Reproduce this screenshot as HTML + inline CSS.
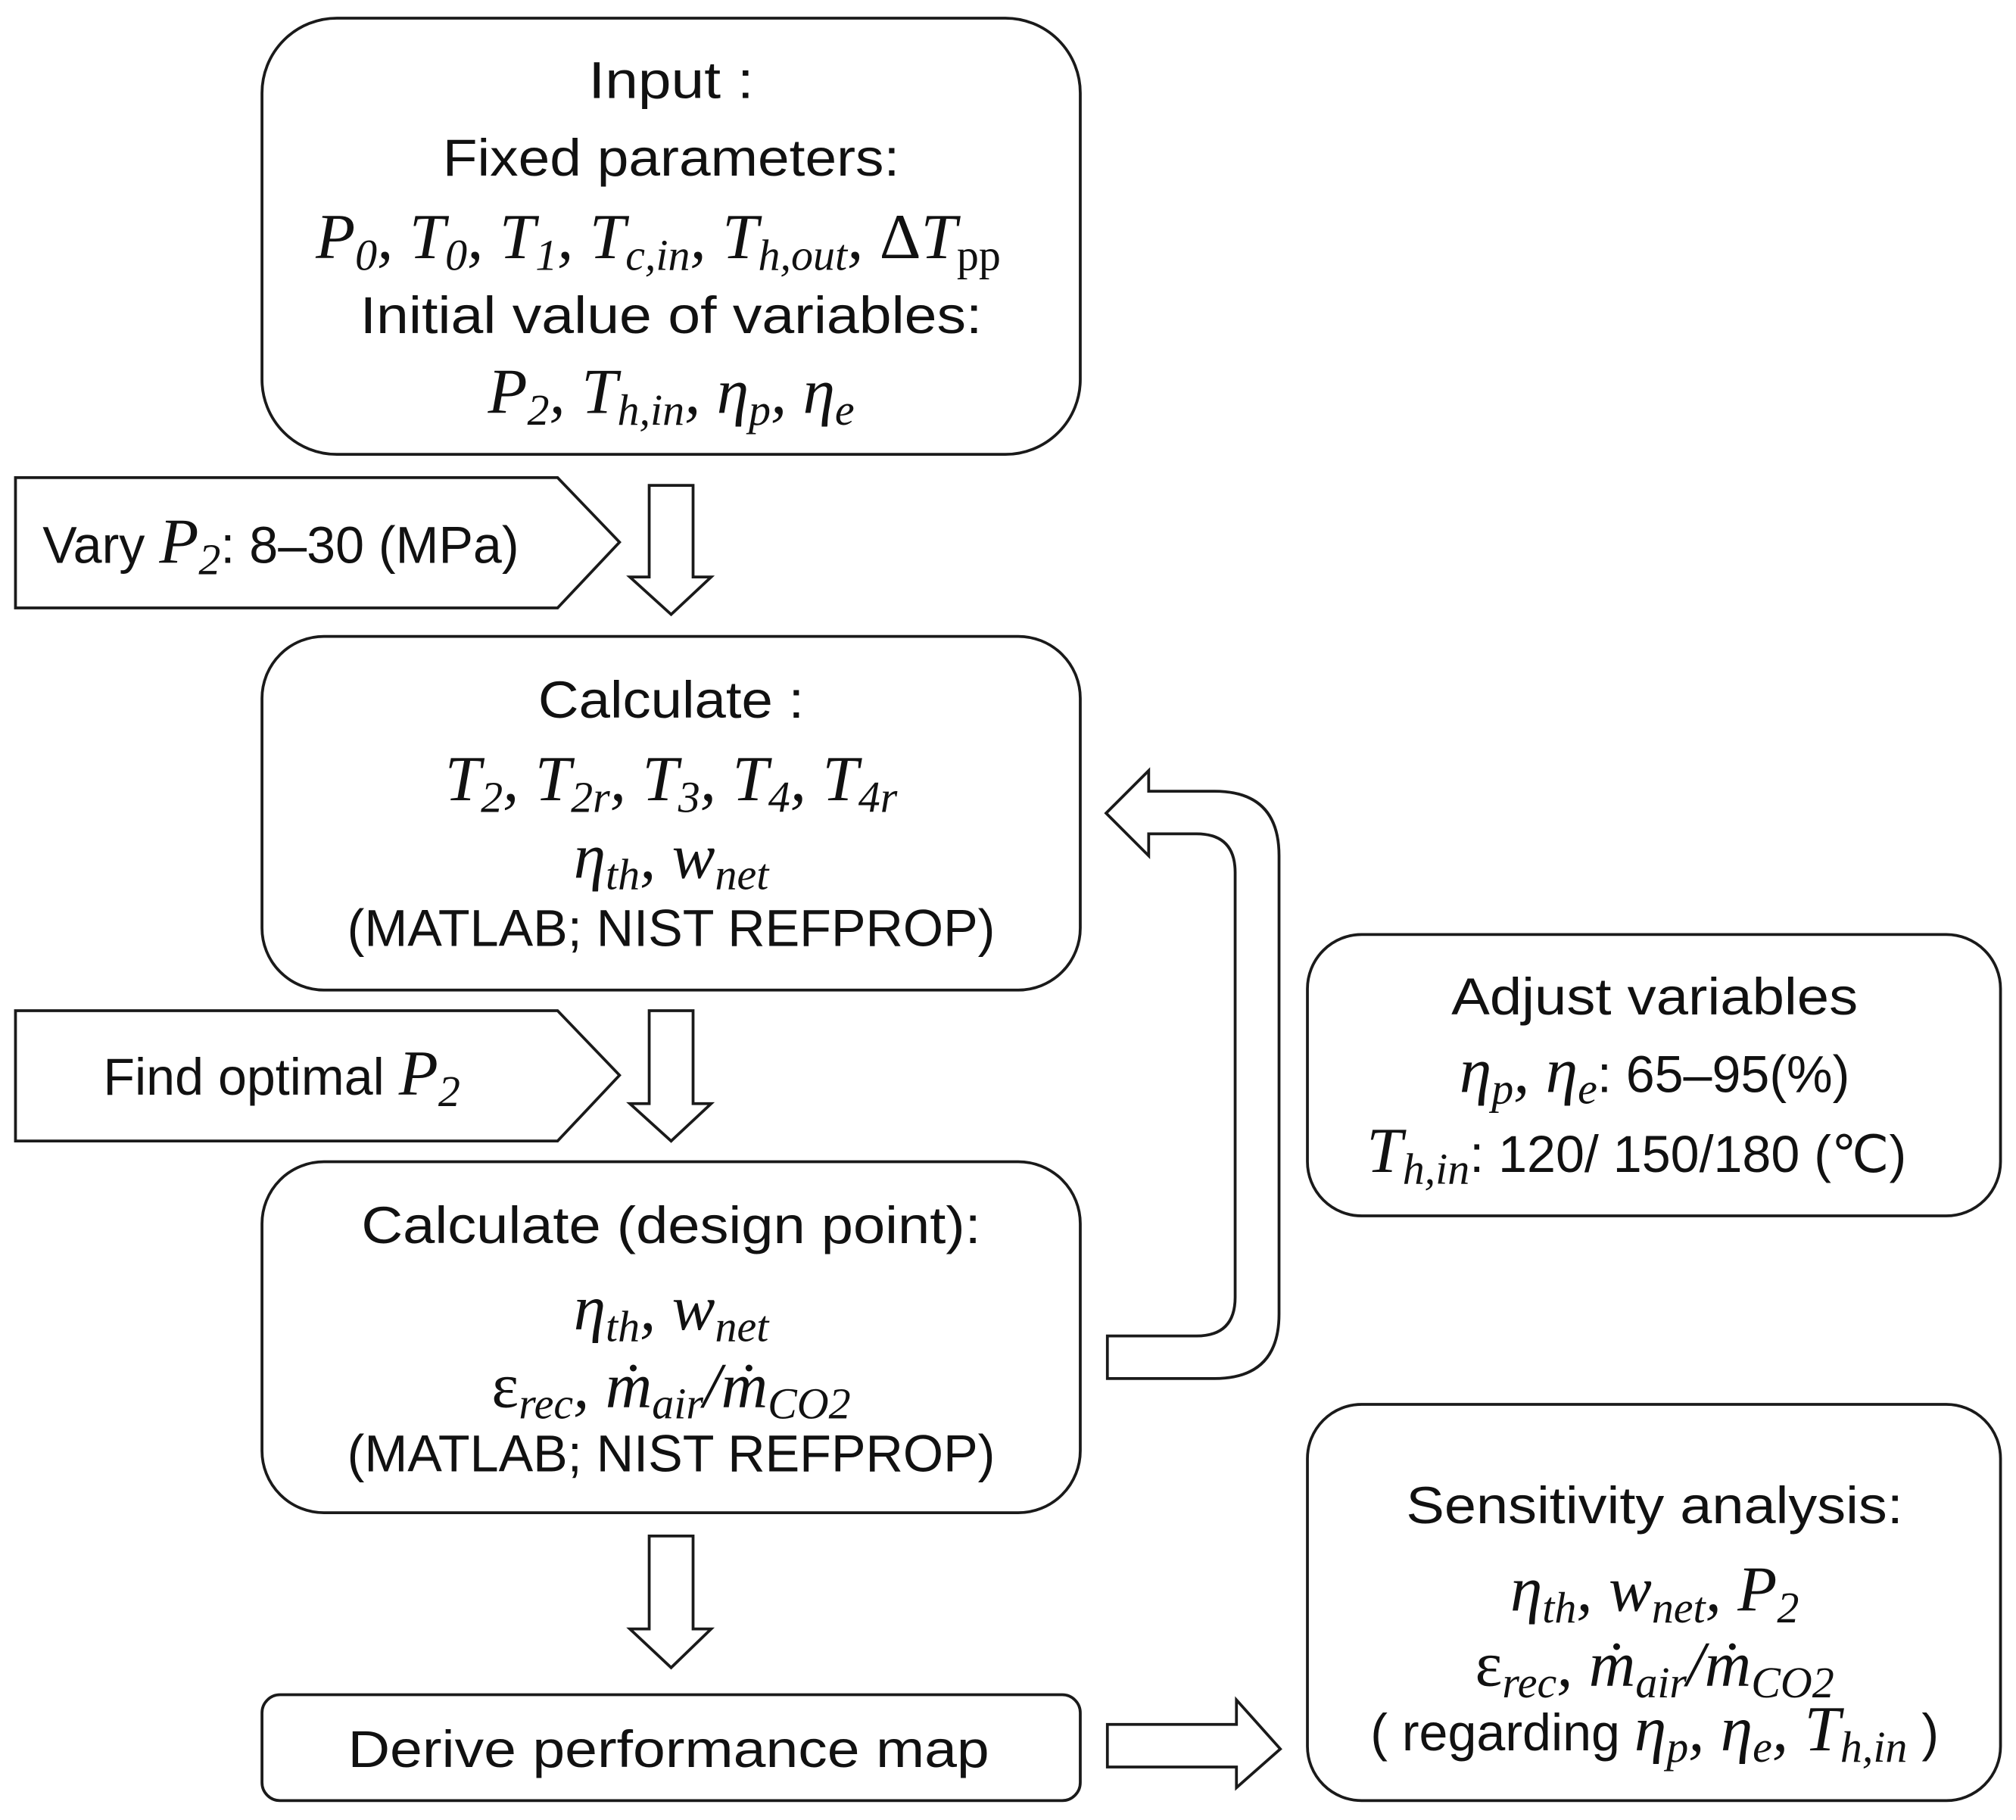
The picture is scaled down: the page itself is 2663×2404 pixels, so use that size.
<!DOCTYPE html>
<html><head><meta charset="utf-8"><style>
html,body{margin:0;padding:0;background:#fff;}
svg{display:block;}
.t{font-family:"Liberation Sans",sans-serif;font-size:40px;fill:#111;}
.m{font-family:"Liberation Serif",serif;font-style:italic;font-size:50px;fill:#111;}
.s{font-size:34px;}
.u{font-style:normal;font-family:"Liberation Sans",sans-serif;font-size:40px;}
</style></head><body>
<svg width="2663" height="2404" viewBox="0 0 1562 1410" xmlns="http://www.w3.org/2000/svg">
<g fill="#fff" stroke="#1a1a1a" stroke-width="2.2">
<rect x="203" y="14" width="634" height="338" rx="58"/>
<rect x="203" y="493" width="634" height="274" rx="48"/>
<rect x="203" y="900" width="634" height="272" rx="48"/>
<rect x="203" y="1313" width="634" height="82" rx="14"/>
<rect x="1013" y="724" width="537" height="218" rx="42"/>
<rect x="1013" y="1088" width="537" height="307" rx="42"/>
<polygon points="12,370 432,370 480,420 432,471 12,471"/>
<polygon points="12,783 432,783 480,833 432,884 12,884"/>
<polygon points="503,376 537,376 537,447 551,447 520,476 488,447 503,447"/>
<polygon points="503,783 537,783 537,855 551,855 520,884 488,855 503,855"/>
<polygon points="503,1190 537,1190 537,1262 551,1262 520,1292 488,1262 503,1262"/>
<polygon points="858,1336 958,1336 958,1317 992,1355 958,1385 958,1369 858,1369"/>
<path d="M857,630 L890,597 L890,613 L941,613 Q991,613 991,663 L991,1018 Q991,1068 941,1068 L858,1068 L858,1035 L927,1035 Q957,1035 957,1005 L957,676 Q957,646 927,646 L890,646 L890,663 Z"/>
</g>
<text class="t" x="520" y="76" text-anchor="middle" textLength="128" lengthAdjust="spacingAndGlyphs">Input :</text>
<text class="t" x="520" y="136" text-anchor="middle" textLength="354" lengthAdjust="spacingAndGlyphs">Fixed parameters:</text>
<text class="m" x="510" y="200" text-anchor="middle">P<tspan class="s" dy="9">0</tspan><tspan dy="-9">, T</tspan><tspan class="s" dy="9">0</tspan><tspan dy="-9">, T</tspan><tspan class="s" dy="9">1</tspan><tspan dy="-9">, T</tspan><tspan class="s" dy="9">c,in</tspan><tspan dy="-9">, T</tspan><tspan class="s" dy="9">h,out</tspan><tspan dy="-9">, </tspan><tspan style="font-style:normal">Δ</tspan>T<tspan class="s" dy="9" style="font-style:normal">pp</tspan></text>
<text class="t" x="520" y="258" text-anchor="middle" textLength="482" lengthAdjust="spacingAndGlyphs">Initial value of variables:</text>
<text class="m" x="520" y="320" text-anchor="middle">P<tspan class="s" dy="9">2</tspan><tspan dy="-9">, T</tspan><tspan class="s" dy="9">h,in</tspan><tspan dy="-9">, η</tspan><tspan class="s" dy="9">p</tspan><tspan dy="-9">, η</tspan><tspan class="s" dy="9">e</tspan></text>
<text class="t" x="33" y="436">Vary <tspan class="m">P</tspan><tspan class="m s" dy="9">2</tspan><tspan dy="-9">: 8–30 (MPa)</tspan></text>
<text class="t" x="80" y="848">Find optimal <tspan class="m">P</tspan><tspan class="m s" dy="9">2</tspan></text>
<text class="t" x="520" y="556" text-anchor="middle" textLength="206" lengthAdjust="spacingAndGlyphs">Calculate :</text>
<text class="m" x="520" y="620" text-anchor="middle">T<tspan class="s" dy="9">2</tspan><tspan dy="-9">, T</tspan><tspan class="s" dy="9">2r</tspan><tspan dy="-9">, T</tspan><tspan class="s" dy="9">3</tspan><tspan dy="-9">, T</tspan><tspan class="s" dy="9">4</tspan><tspan dy="-9">, T</tspan><tspan class="s" dy="9">4r</tspan></text>
<text class="m" x="520" y="680" text-anchor="middle">η<tspan class="s" dy="9">th</tspan><tspan dy="-9">, w</tspan><tspan class="s" dy="9">net</tspan></text>
<text class="t" x="520" y="733" text-anchor="middle" textLength="502" lengthAdjust="spacingAndGlyphs">(MATLAB; NIST REFPROP)</text>
<text class="t" x="520" y="963" text-anchor="middle" textLength="480" lengthAdjust="spacingAndGlyphs">Calculate (design point):</text>
<text class="m" x="520" y="1030" text-anchor="middle">η<tspan class="s" dy="9">th</tspan><tspan dy="-9">, w</tspan><tspan class="s" dy="9">net</tspan></text>
<text class="m" x="520" y="1090" text-anchor="middle"><tspan style="font-style:normal">ε</tspan><tspan class="s" dy="9">rec</tspan><tspan dy="-9">, ṁ</tspan><tspan class="s" dy="9">air</tspan><tspan dy="-9">/ṁ</tspan><tspan class="s" dy="9">CO2</tspan></text>
<text class="t" x="520" y="1140" text-anchor="middle" textLength="502" lengthAdjust="spacingAndGlyphs">(MATLAB; NIST REFPROP)</text>
<text class="t" x="518" y="1369" text-anchor="middle" textLength="497" lengthAdjust="spacingAndGlyphs">Derive performance map</text>
<text class="t" x="1282" y="786" text-anchor="middle" textLength="315" lengthAdjust="spacingAndGlyphs">Adjust variables</text>
<text class="m" x="1282" y="846" text-anchor="middle">η<tspan class="s" dy="9">p</tspan><tspan dy="-9">, η</tspan><tspan class="s" dy="9">e</tspan><tspan class="u" dy="-9">: 65–95(%)</tspan></text>
<text class="m" x="1268" y="908" text-anchor="middle">T<tspan class="s" dy="9">h,in</tspan><tspan class="u" dy="-9">: 120/ 150/180 (℃)</tspan></text>
<text class="t" x="1282" y="1180" text-anchor="middle" textLength="385" lengthAdjust="spacingAndGlyphs">Sensitivity analysis:</text>
<text class="m" x="1282" y="1248" text-anchor="middle">η<tspan class="s" dy="9">th</tspan><tspan dy="-9">, w</tspan><tspan class="s" dy="9">net</tspan><tspan dy="-9">, P</tspan><tspan class="s" dy="9">2</tspan></text>
<text class="m" x="1282" y="1306" text-anchor="middle"><tspan style="font-style:normal">ε</tspan><tspan class="s" dy="9">rec</tspan><tspan dy="-9">, ṁ</tspan><tspan class="s" dy="9">air</tspan><tspan dy="-9">/ṁ</tspan><tspan class="s" dy="9">CO2</tspan></text>
<text class="m" x="1282" y="1356" text-anchor="middle"><tspan class="u">( regarding </tspan>η<tspan class="s" dy="9">p</tspan><tspan dy="-9">, η</tspan><tspan class="s" dy="9">e</tspan><tspan dy="-9">, T</tspan><tspan class="s" dy="9">h,in</tspan><tspan class="u" dy="-9"> )</tspan></text>
</svg>
</body></html>
